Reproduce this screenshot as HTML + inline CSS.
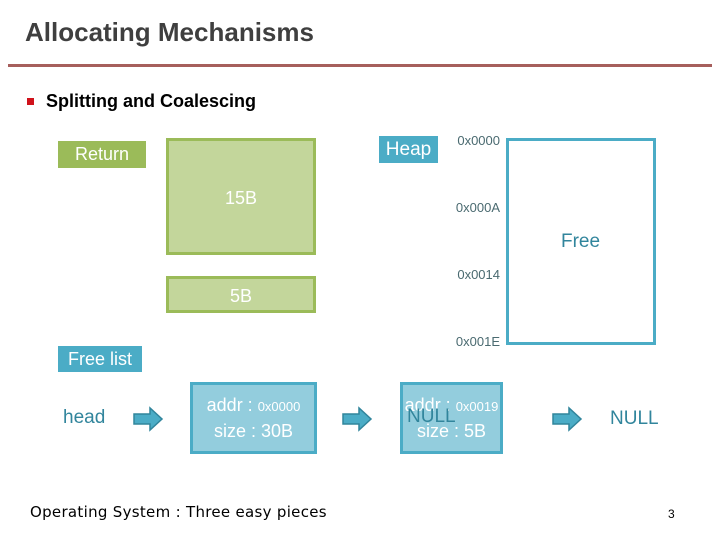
<!DOCTYPE html>
<html><head><meta charset="utf-8"><style>
body{margin:0;width:720px;height:540px;background:#fff;position:relative;overflow:hidden;font-family:"Liberation Sans",sans-serif}
div{position:absolute;box-sizing:border-box}
.c{display:flex;align-items:center;justify-content:center;text-align:center}
.g{background:#c3d69b;border:3px solid #9bbb59;color:#fff;font-size:18px}
.b{background:#93cddd;border:3px solid #4bacc6;color:#fff;font-size:18px;line-height:24px;flex-direction:column}
.lab{color:#4a6a70;font-size:13px;text-align:right;width:80px;left:420px}
.arr{width:28px;height:18px}
</style></head><body>
<div style="left:25px;top:17px;font-size:26px;font-weight:bold;color:#3f3f3f">Allocating Mechanisms</div>
<div style="left:8px;top:64px;width:704px;height:3px;background:#a65f5c"></div>
<div style="left:27px;top:98px;width:7px;height:7px;background:#d0121b"></div>
<div style="left:46px;top:91px;font-size:18px;font-weight:bold;color:#000">Splitting and Coalescing</div>
<div class="c" style="left:58px;top:141px;width:88px;height:27px;background:#9bbb59;color:#fff;font-size:18px">Return</div>
<div class="c g" style="left:166px;top:138px;width:150px;height:117px;align-items:flex-start;padding-top:47px">15B</div>
<div class="c g" style="left:166px;top:276px;width:150px;height:37px;padding-top:4px">5B</div>
<div class="c" style="left:379px;top:136px;width:59px;height:27px;background:#4bacc6;color:#fff;font-size:19px">Heap</div>
<div class="lab" style="top:133px">0x0000</div>
<div class="lab" style="top:200px">0x000A</div>
<div class="lab" style="top:267px">0x0014</div>
<div class="lab" style="top:334px">0x001E</div>
<div style="left:506px;top:138px;width:150px;height:207px;border:3px solid #4bacc6"></div>
<div style="left:561px;top:231px;font-size:19px;color:#31859c">Free</div>
<div class="c" style="left:58px;top:346px;width:84px;height:26px;background:#4bacc6;color:#fff;font-size:18px">Free list</div>
<div style="left:63px;top:407px;font-size:19px;color:#31859c">head</div>
<div class="c b" style="left:190px;top:382px;width:127px;height:72px">
<span>addr : <span style="font-size:13px">0x0000</span></span><span>size : 30B</span></div>
<div class="c b" style="left:400px;top:382px;width:103px;height:72px">
<span>addr : <span style="font-size:13px">0x0019</span></span><span>size : 5B</span></div>
<div style="left:407px;top:406px;font-size:19px;color:#31859c">NULL</div>
<div style="left:610px;top:408px;font-size:19px;color:#31859c">NULL</div>
<svg style="position:absolute;left:0;top:0" width="720" height="540">
<g fill="#4bacc6" stroke="#31859c" stroke-width="1.5">
<path d="M134 414h16v-6l12 11l-12 11v-6h-16z"/>
<path d="M343 414h16v-6l12 11l-12 11v-6h-16z"/>
<path d="M553 414h16v-6l12 11l-12 11v-6h-16z"/>
</g></svg>
<div style="left:30px;top:503px;font-size:15px;font-family:'DejaVu Sans',sans-serif;color:#000;letter-spacing:0.3px">Operating System : Three easy pieces</div>
<div style="left:668px;top:507px;font-size:12px;color:#000">3</div>
</body></html>
